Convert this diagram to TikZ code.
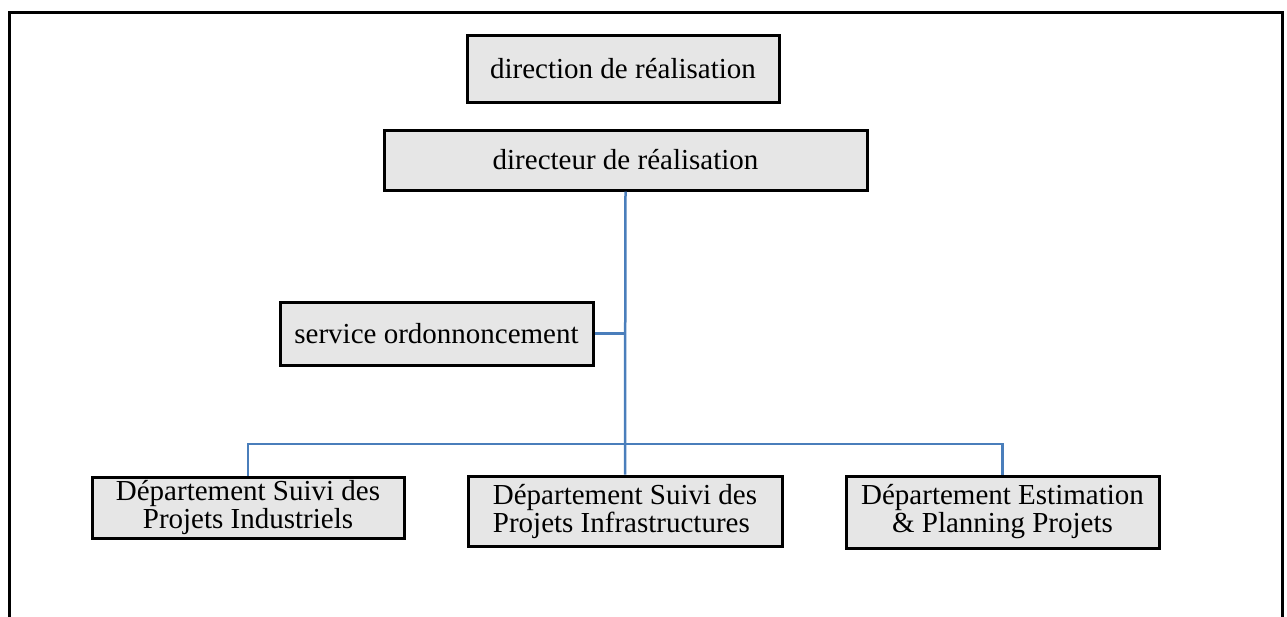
\documentclass[tikz,border=0pt]{standalone}
\usepackage{fontspec}
\setmainfont{Liberation Serif}
\definecolor{linkblue}{RGB}{74,126,187}
\definecolor{boxgray}{RGB}{230,230,230}
\begin{document}
\begin{tikzpicture}[x=1pt,y=-1pt,
  unit/.style={draw=black, fill=boxgray, line width=3pt, inner sep=0pt,
    align=center, font=\fontsize{29}{28}\selectfont},
  link/.style={draw=linkblue, line width=2.5pt}]
\useasboundingbox (0,0) rectangle (1287,616);
% outer frame
\draw[line width=3pt] (9,12) rectangle (1282,640);
% units
\node[unit, minimum width=312pt, minimum height=67pt] (direction) at (623,68.5) {direction de réalisation};
\node[unit, minimum width=483pt, minimum height=60pt] (directeur) at (625.5,160) {directeur de réalisation};
\node[unit, minimum width=313pt, minimum height=63pt] (ordo) at (436.5,333.5) {service ordonnoncement};
\node[unit, minimum width=312pt, minimum height=61pt] (indus) at (248,507.5) {Département Suivi des\\Projets Industriels};
\node[unit, minimum width=314pt, minimum height=70pt, align=left] (infra) at (625,511) {Département Suivi des\\Projets Infrastructures};
\node[unit, minimum width=313pt, minimum height=72pt] (estim) at (1002.5,512) {Département Estimation\\\& Planning Projets};
% connectors
\coordinate (bus) at (625,444);
\draw[link] (directeur.south) -- (bus) -- (infra.north);
\draw[link] (ordo.east) -- (ordo.east -| bus);
\draw[link] (indus.north) |- (bus) -| (estim.north);
\end{tikzpicture}
\end{document}
